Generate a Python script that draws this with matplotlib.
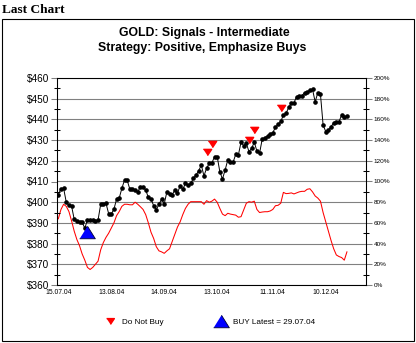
import matplotlib
matplotlib.use('Agg')
import matplotlib.pyplot as plt
from matplotlib.lines import Line2D
from matplotlib.patches import Rectangle
from matplotlib.ticker import MultipleLocator, FuncFormatter

# ---- data ----
price = [403.5, 406.6, 406.7, 400.0, 398.5, 398.2, 391.7, 390.9, 390.3, 390.4,
         387.4, 391.5, 391.3, 391.5, 391.0, 391.4, 399.0, 399.2, 399.5, 394.5,
         394.3, 396.6, 401.5, 402.0, 406.7, 410.7, 410.6, 406.3, 406.2, 406.0,
         405.0, 407.5, 407.3, 405.9, 402.3, 401.6, 398.3, 396.4, 399.0, 401.4,
         399.2, 405.0, 404.2, 403.7, 405.8, 404.3, 408.0, 406.2, 409.1, 408.3,
         409.1, 411.5, 413.0, 415.2, 417.9, 412.7, 416.4, 418.8, 419.0, 422.0,
         422.0, 414.7, 411.2, 415.6, 420.4, 419.3, 419.3, 423.1, 422.8, 429.0,
         427.3, 428.5, 424.4, 426.0, 429.0, 424.7, 423.6, 430.5, 431.2, 432.0,
         433.0, 433.6, 436.2, 437.6, 439.0, 442.1, 442.9, 445.8, 447.8, 448.1,
         451.0, 451.2, 451.5, 452.9, 453.4, 454.0, 454.5, 448.5, 452.9, 452.1,
         437.3, 434.1, 434.9, 436.5, 438.4, 438.9, 438.9, 442.1, 441.4, 441.6]

oscillator = [64, 73, 78, 76, 71, 62, 52, 44, 38, 30,
              24, 17, 15, 17, 20, 23, 34, 41, 46, 50,
              55, 60, 67, 71, 76, 78, 78, 77.5, 77.5, 80,
              78, 75.6, 73, 68, 60, 51, 45, 37, 33, 32,
              30.6, 33, 35, 42, 49, 56, 61, 68, 74, 78,
              80.5, 80.5, 80.5, 80.5, 80.5, 78, 81.5, 80, 81, 83,
              80, 74, 68.5, 67, 69.3, 68.5, 68, 67.5, 65.5, 66,
              72.5, 79, 80.5, 80, 81, 73, 70, 70.5, 70.8, 70.8,
              71.5, 73, 76.6, 77, 79, 89.5, 88.3, 88.5, 89, 88,
              89, 90, 90.5, 90.5, 92.5, 93, 90, 86, 84, 81,
              70, 61, 52, 43, 35, 29, 27.5, 26.5, 24, 32]

sell_idx = [56, 58, 72, 74, 84]
sell_val = [424.4, 428.1, 430.0, 434.9, 445.4]
buy_idx = [11]
buy_val = [385.7]

tick_idx = [0, 20, 40, 60, 81, 101]
tick_labels = ['15.07.04', '13.08.04', '14.09.04', '13.10.04', '11.11.04', '10.12.04']

# ---- figure ----
W, H = 416, 343
fig = plt.figure(figsize=(W / 100, H / 100), dpi=100)
fig.patch.set_facecolor('white')

rect = [57 / W, 1 - 285 / H, 309 / W, 207 / H]
ax2 = fig.add_axes(rect)          # oscillator (right axis), drawn below
ax = fig.add_axes(rect, sharex=ax2)  # price (left axis), drawn on top
ax.patch.set_visible(False)

x = list(range(len(price)))

# oscillator
ax2.plot(x, oscillator, color='#ff0000', lw=0.75, zorder=3)
ax2.set_ylim(0, 200)
ax2.yaxis.tick_right()
ax2.yaxis.set_major_locator(MultipleLocator(20))
ax2.yaxis.set_minor_locator(MultipleLocator(10))
ax2.yaxis.set_major_formatter(FuncFormatter(lambda v, p: f'{v:.0f}%'))
ax2.grid(axis='y', which='major', color='#808080', lw=0.8, zorder=1)
ax2.set_axisbelow(True)

# price
ax.plot(x, price, color='black', lw=0.7, marker='o', ms=2.3, mec='black',
        mfc='black', zorder=4)
down_tri = [(-1, 0.75), (1, 0.75), (0, -0.75)]
up_tri = [(-1, -0.8), (1, -0.8), (0, 0.8)]
ax.plot(sell_idx, sell_val, linestyle='none', marker=down_tri, ms=6.0,
        color='#ff0000', mec='#ff0000', zorder=6)
ax.plot(buy_idx, buy_val, linestyle='none', marker=up_tri, ms=11.3,
        color='#0000ff', mec='#000033', mew=0.6, zorder=6)
ax.set_ylim(360, 460)
ax.yaxis.set_major_locator(MultipleLocator(10))
ax.yaxis.set_minor_locator(MultipleLocator(5))
ax.yaxis.set_major_formatter(FuncFormatter(lambda v, p: f'${v:.0f}'))

ax.set_xlim(-0.5, 116.2)
ax.set_xticks(tick_idx)
ax.set_xticklabels(tick_labels)

font = 'Liberation Sans'
for a in (ax, ax2):
    for s in a.spines.values():
        s.set_linewidth(0.75)
        s.set_color('black')
    a.tick_params(axis='y', which='major', direction='out', length=4.3,
                  width=0.75, color='#808080', pad=1)
    a.tick_params(axis='y', which='minor', direction='inout', length=4.3,
                  width=0.75, color='black')
ax.tick_params(axis='y', labelsize=7.2)
ax2.tick_params(axis='y', labelsize=4.6)
ax.tick_params(axis='x', length=0, pad=3.2, labelsize=4.9)
ax2.tick_params(axis='x', length=0, labelbottom=False)
for lab in ax.get_yticklabels() + ax2.get_yticklabels() + ax.get_xticklabels():
    lab.set_family(font)

# frame and texts
fig.add_artist(Rectangle((1.5 / W, 1 - 341 / H), 412 / W, 322 / H,
                         transform=fig.transFigure, fill=False,
                         lw=0.8, ec='black'))
fig.text(2 / W, 1 - 10 / H, 'Last Chart', family='Liberation Serif',
         weight='bold', fontsize=9.6, ha='left', va='center')
fig.text(204 / W, 1 - 33 / H, 'GOLD: Signals - Intermediate', family=font,
         weight='bold', fontsize=8.8, ha='center', va='center')
fig.text(202 / W, 1 - 48 / H, 'Strategy: Positive, Emphasize Buys', family=font,
         weight='bold', fontsize=8.8, ha='center', va='center')

# legend
h1 = Line2D([], [], linestyle='none', marker=down_tri, ms=5.6,
            color='#ff0000', mec='#ff0000')
h2 = Line2D([], [], linestyle='none', marker=up_tri, ms=11.3,
            color='#0000ff', mec='#000033', mew=0.6)
fig.legend([h1, h2], ['Do Not Buy', 'BUY Latest = 29.07.04'], ncol=2,
           loc='center left', bbox_to_anchor=(99.5 / W, 1 - 322 / H),
           frameon=False, borderpad=0, handlelength=1.5, handletextpad=0.7,
           columnspacing=6.3, prop={'family': font, 'size': 5.9})

fig.savefig('out.png', dpi=100)
